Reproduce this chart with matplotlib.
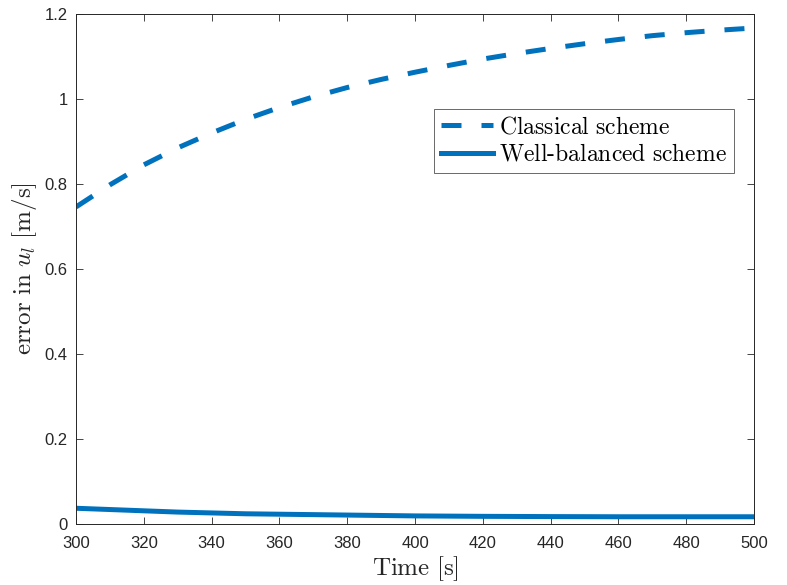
import numpy as np
import matplotlib
matplotlib.use('Agg')
import matplotlib.pyplot as plt

# data
time = [300, 310, 320, 330, 340, 350, 360, 370, 380, 390, 400,
        410, 420, 430, 440, 450, 460, 470, 480, 490, 500]
err_classical = [0.746, 0.798, 0.845, 0.885, 0.920, 0.952, 0.980, 1.005, 1.027, 1.046, 1.063,
                 1.079, 1.094, 1.107, 1.119, 1.130, 1.140, 1.149, 1.156, 1.162, 1.167]
err_balanced = [0.037, 0.034, 0.031, 0.028, 0.026, 0.024, 0.023, 0.022, 0.021, 0.020, 0.019,
                0.0185, 0.018, 0.0177, 0.0174, 0.0172, 0.017, 0.017, 0.017, 0.017, 0.017]

plt.rcParams['mathtext.fontset'] = 'cm'
plt.rcParams['font.family'] = ['Liberation Sans', 'DejaVu Sans']

blue = '#0072BD'
txt = '#262626'

fig = plt.figure(figsize=(7.87, 5.85), dpi=100)
ax = fig.add_axes([0.0966, 0.1043, 0.8615, 0.8718])

ax.plot(time, err_classical, color=blue, lw=3.6, ls=(0, (4, 4)),
        solid_capstyle='butt', dash_capstyle='butt',
        label=r'$\mathrm{Classical\ scheme}$')
ax.plot(time, err_balanced, color=blue, lw=3.6, ls='solid',
        label=r'$\mathrm{Well\text{-}balanced\ scheme}$')

ax.set_xlim(300, 500)
ax.set_ylim(0, 1.2)
ax.set_xticks(np.arange(300, 501, 20))
ax.set_yticks([0, 0.2, 0.4, 0.6, 0.8, 1.0, 1.2])
ax.set_yticklabels(['0', '0.2', '0.4', '0.6', '0.8', '1', '1.2'])

ax.tick_params(direction='in', top=True, right=True, length=5, width=0.6,
               labelsize=12, colors=txt)
ax.tick_params(axis='x', pad=9)
ax.tick_params(axis='y', pad=6)
for s in ax.spines.values():
    s.set_linewidth(0.7)
    s.set_color(txt)

ax.set_xlabel(r'$\mathrm{Time\ [s]}$', fontsize=18, color=txt, labelpad=2)
ax.set_ylabel(r'$\mathrm{error\ in\ }u_l\mathrm{\ [m/s]}$', fontsize=18, color=txt, labelpad=4)

leg = ax.legend(loc='upper right', bbox_to_anchor=(0.9705, 0.8137), fontsize=17,
                handlelength=2.2, handletextpad=0.25, borderpad=0.3, labelspacing=0.25,
                borderaxespad=0, frameon=True, fancybox=False)
leg.get_frame().set_edgecolor(txt)
leg.get_frame().set_linewidth(0.6)

fig.savefig('out.png', dpi=100)
